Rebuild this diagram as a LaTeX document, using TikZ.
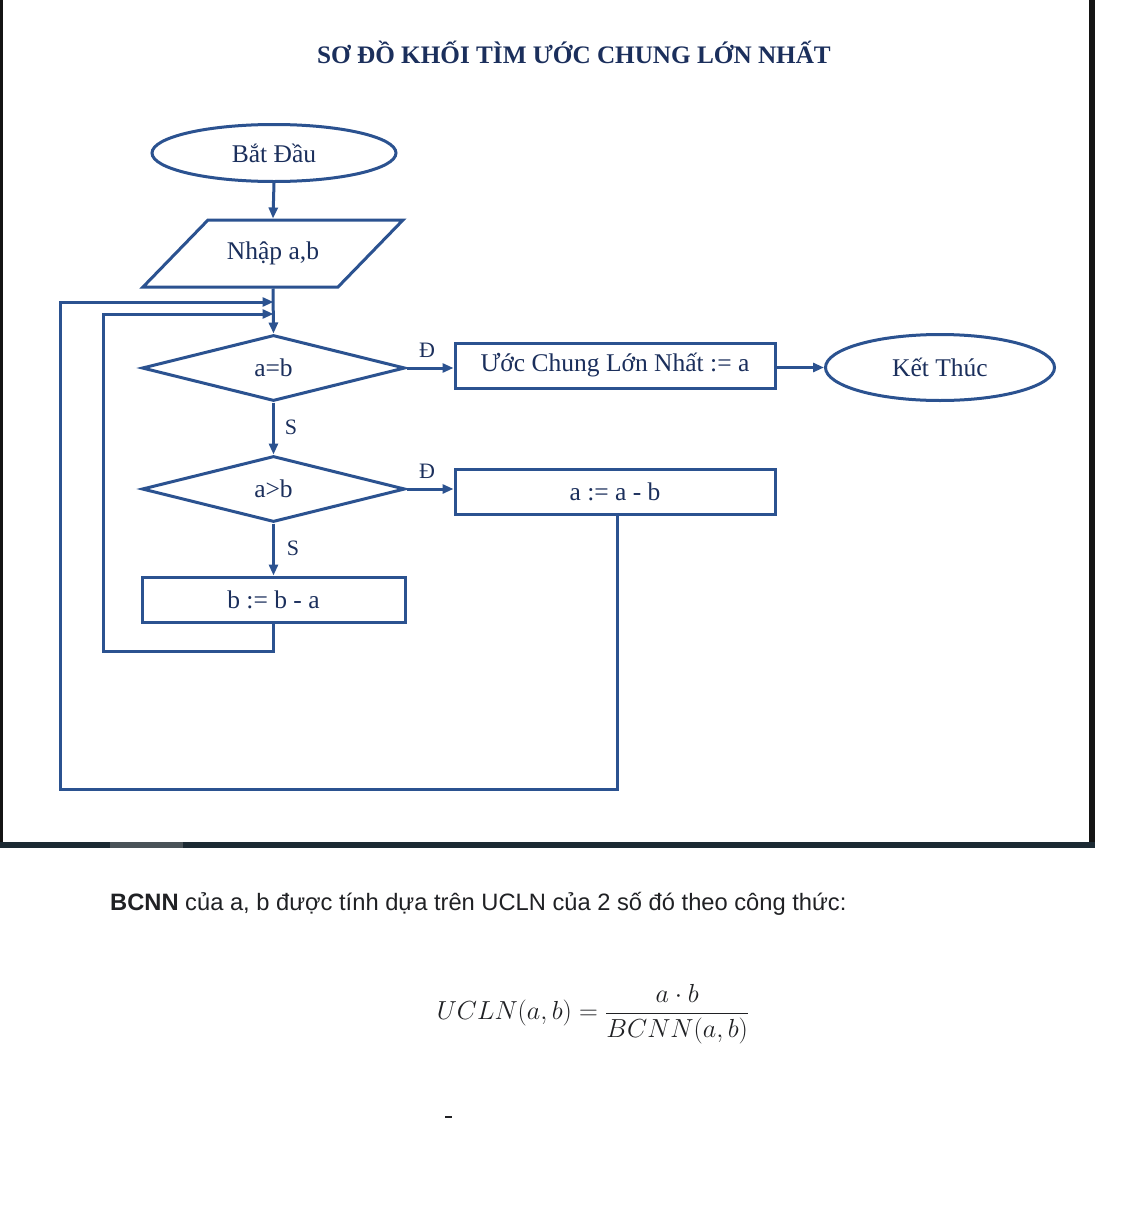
\RequirePackage{fix-cm}
\documentclass[tikz,border=0pt]{standalone}
\usepackage{fontspec}
\setmainfont{Liberation Serif}
\newfontfamily\uisans{Liberation Sans}
\usetikzlibrary{shapes.geometric,arrows.meta}
\definecolor{linec}{HTML}{2B5290}
\definecolor{txtc}{HTML}{1B2F5C}
\definecolor{pagetxt}{HTML}{202124}
\definecolor{barc}{HTML}{1C2A33}
\definecolor{barhi}{HTML}{4A5358}
\tikzset{
  shp/.style={draw=linec, line width=3pt, text=txtc, inner sep=0pt,
    font=\fontsize{25.5}{28}\selectfont},
  term/.style={shp, ellipse},
  decide/.style={shp, diamond},
  proc/.style={shp, rectangle},
  arr/.style={draw=linec, line width=3pt, -{Triangle[length=11pt,width=9pt]}},
  link/.style={draw=linec, line width=3pt},
  lbl/.style={text=txtc, inner sep=0pt, font=\fontsize{22}{24}\selectfont},
}
\begin{document}
\begin{tikzpicture}[x=1pt,y=-1pt]
\useasboundingbox (0,0) rectangle (1120,1226);
\fill[white] (0,0) rectangle (1120,1226);
% frame of the screenshot
\fill[black!92] (0,0) rectangle (3,842);
\fill[black!92] (1089,0) rectangle (1095,842);
\fill[barc] (0,842) rectangle (1095,848);
\fill[barhi] (110,842) rectangle (183,848);

% title
\node[text=txtc, inner sep=0pt, font=\bfseries\fontsize{25.2}{28}\selectfont] (title) at (574,52) {SƠ ĐỒ KHỐI TÌM ƯỚC CHUNG LỚN NHẤT};

% nodes
\node[term, minimum width=244pt, minimum height=57pt] (start) at (274,153) {Bắt Đầu};
\node[shp, draw=none, minimum width=260pt, minimum height=67pt] (in) at (273,253.5) {Nhập a,b};
\draw[link] (208,220) -- (403,220) -- (338,287) -- (143,287) -- cycle;
\node[decide, minimum width=263pt, minimum height=66pt] (d1) at (273.5,368) {a=b};
\node[decide, minimum width=263pt, minimum height=66pt] (d2) at (273.5,489) {a>b};
\node[proc, minimum width=320pt, minimum height=45pt] (p1) at (615,365.5) {Ước Chung Lớn Nhất := a};
\node[proc, minimum width=320pt, minimum height=45pt] (p2) at (615,491.5) {a := a - b};
\node[proc, minimum width=263pt, minimum height=45pt] (p3) at (273.5,599.5) {b := b - a};
\node[term, minimum width=229pt, minimum height=66pt] (end) at (940,367.5) {Kết Thúc};

% labels
\node[lbl] (l1) at (427,350) {Đ};
\node[lbl] (l2) at (427,471) {Đ};
\node[lbl] (l3) at (291,427) {S};
\node[lbl] (l4) at (293,548) {S};

% connectors
\draw[arr] (start.south) -- (in.north);
\draw[arr] (in.south) -- (d1.north);
\draw[arr] (d1.east) -- (p1.west |- d1.east);
\draw[arr] (p1.east |- end.west) -- (end.west);
\draw[arr] (d1.south) -- (d2.north);
\draw[arr] (d2.east) -- (p2.west |- d2.east);
\draw[arr] (d2.south) -- (p3.north);
\coordinate (ib) at (103,651);
\coordinate (j1) at (273.5,314);
\coordinate (ob) at (60,789);
\coordinate (j2) at (273.5,302);
\draw[arr] (p3.south) |- (ib) |- (j1);
\draw[arr] (p2.south -| 617,0) |- (ob) |- (j2);

% text under the diagram
\node[anchor=west, text=pagetxt, inner sep=0pt, font=\uisans\fontsize{23.7}{27}\selectfont] (caption) at (110,904)
  {\textbf{BCNN} của a, b được tính dựa trên UCLN của 2 số đó theo công thức:};
\node[text=pagetxt, inner sep=0pt, font=\fontsize{26.1}{30}\selectfont] (formula) at (593,1014)
  {$\displaystyle UCLN(a,b)=\frac{a\cdot b}{BCNN(a,b)}$};
\draw[pagetxt, line width=1.5pt] (445,1117) -- (452,1117);
\end{tikzpicture}
\end{document}
